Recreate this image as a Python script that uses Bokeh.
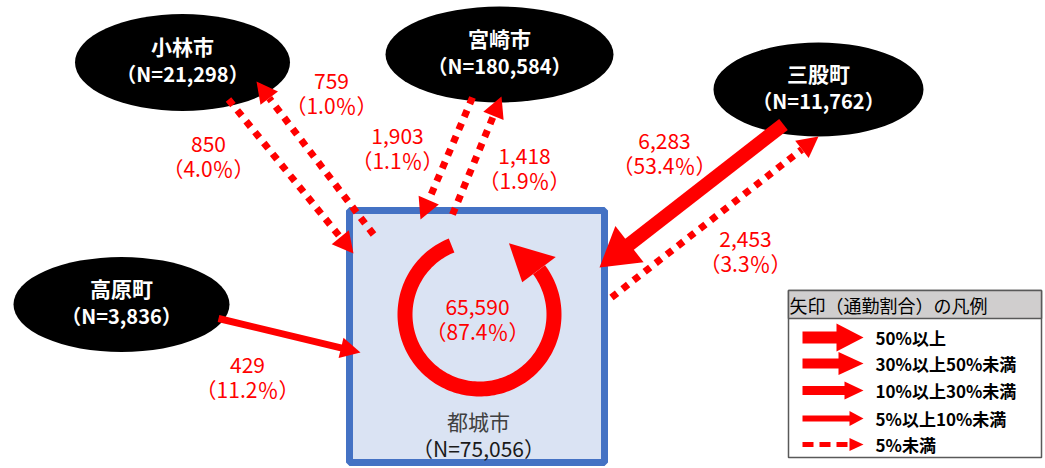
import numpy as np
from bokeh.plotting import figure
from bokeh.models import Range1d
from bokeh.core.properties import value
from bokeh.embed import file_html
from bokeh.resources import INLINE

# ---------------- data ----------------
center_name = "都城市"
center_n = 75056
internal_flow = 65590
internal_pct = 87.4

places = ["小林市", "宮崎市", "三股町", "高原町"]
place_n = [21298, 180584, 11762, 3836]
# commuters from each place to 都城市
to_center = [850, 1903, 6283, 429]
to_center_pct = [4.0, 1.1, 53.4, 11.2]
# commuters from 都城市 to each place
from_center = [759, 1418, 2453, None]
from_center_pct = [1.0, 1.9, 3.3, None]

legend_title = "矢印（通勤割合）の凡例"
legend_labels = ["50%以上", "30%以上50%未満", "10%以上30%未満", "5%以上10%未満", "5%未満"]
class_bounds = [50, 30, 10, 5, 0]

# ---------------- layout (screen pixels) ----------------
W, H = 1045, 468
ellipse_layout = {
    "小林市": (182, 62, 215, 97),
    "宮崎市": (499, 54, 228, 96),
    "三股町": (818, 89, 210, 94),
    "高原町": (121, 304, 216, 95),
}
to_geom = {
    "小林市": ((228, 99), (353, 253)),
    "宮崎市": ((472, 97), (420, 219)),
    "三股町": ((783, 124), (599, 267)),
    "高原町": ((218, 318), (360, 352)),
}
from_geom = {
    "小林市": ((373, 234), (256, 81)),
    "宮崎市": ((452, 214), (501, 96)),
    "三股町": ((611, 297), (818, 136)),
}
to_label_pos = {"小林市": (208, 143), "宮崎市": (397, 135), "三股町": (664, 140), "高原町": (247, 364)}
from_label_pos = {"小林市": (331, 80), "宮崎市": (524, 155), "三股町": (745, 238)}
LINE_GAP = 24

# arrow styles by class index: shaft width, head width, head length
main_style = [(14, 46, 38), (11, 34, 30), (7, 21, 20), (6, 18, 16), (7, 22, 21)]
legend_style = [(12, 28, 27), (10, 23, 25), (9, 18, 19), (6, 15, 14), (5, 13, 14)]

RED = "#FF0000"
FONT = value("'Noto Sans CJK JP'")


def arrow_class(pct):
    for i, b in enumerate(class_bounds):
        if pct >= b:
            return i
    return len(class_bounds) - 1


p = figure(width=W, height=H, x_range=Range1d(0, W), y_range=Range1d(H, 0),
           output_backend="svg", toolbar_location=None, min_border=0,
           x_axis_type=None, y_axis_type=None)
p.grid.visible = False
p.outline_line_color = None
p.background_fill_color = "white"
p.border_fill_color = "white"


def draw_arrow(start, tip, sw, hw, hl, dotted=False, dash="7 7"):
    x0, y0 = start
    x1, y1 = tip
    dx, dy = x1 - x0, y1 - y0
    L = np.hypot(dx, dy)
    ux, uy = dx / L, dy / L
    nx, ny = -uy, ux
    bx, by = x1 - ux * hl, y1 - uy * hl
    if dotted:
        p.line([x0, bx], [y0, by], line_color=RED, line_width=sw, line_dash=dash, line_cap="butt")
    else:
        ex, ey = bx + ux * 2, by + uy * 2
        p.patch([x0 + nx * sw / 2, ex + nx * sw / 2, ex - nx * sw / 2, x0 - nx * sw / 2],
                [y0 + ny * sw / 2, ey + ny * sw / 2, ey - ny * sw / 2, y0 - ny * sw / 2],
                fill_color=RED, line_color=None)
    p.patch([x1, bx + nx * hw / 2, bx - nx * hw / 2], [y1, by + ny * hw / 2, by - ny * hw / 2],
            fill_color=RED, line_color=None)


def txt(x, y, s, size, color, bold=False, align="center"):
    p.text(x=[x], y=[y], text=[s], text_font=FONT, text_font_size=f"{size}px",
           text_color=color, text_align=align, text_baseline="middle",
           text_font_style="bold" if bold else "normal")


def flow_label(pos, n, pct):
    x, y = pos
    txt(x, y, f"{n:,}", 21, RED)
    txt(x, y + LINE_GAP, f"（{pct:.1f}％）", 21, RED)


# 都城市 box
p.quad(left=[349], right=[604], top=[210], bottom=[462], fill_color="#DAE3F3",
       line_color="#4472C4", line_width=7)

# internal circular arrow
cx, cy, r_in, r_out = 479, 314, 67, 82
a0, a1 = np.deg2rad(-112), np.deg2rad(-397)
th = np.linspace(a0, a1, 160)
p.patch(np.concatenate([cx + r_out * np.cos(th), cx + r_in * np.cos(th[::-1])]),
        np.concatenate([cy + r_out * np.sin(th), cy + r_in * np.sin(th[::-1])]),
        fill_color=RED, line_color=None)
rm = (r_in + r_out) / 2
hw_c = 42
tip_a = np.deg2rad(-67.5)
p.patch([cx + (rm - hw_c / 2) * np.cos(a1), cx + (rm + hw_c / 2) * np.cos(a1), cx + 77 * np.cos(tip_a)],
        [cy + (rm - hw_c / 2) * np.sin(a1), cy + (rm + hw_c / 2) * np.sin(a1), cy + 77 * np.sin(tip_a)],
        fill_color=RED, line_color=None)
flow_label((477, 306), internal_flow, internal_pct)
txt(478, 420, center_name, 21, "#404040")
txt(478, 447, f"（N={center_n:,}）", 21, "#1a1a1a")

# nodes
for name, n in zip(places, place_n):
    x, y, w, h = ellipse_layout[name]
    p.ellipse(x=[x], y=[y], width=[w], height=[h], fill_color="black", line_color=None)
    txt(x, y - 17, name, 21, "white", bold=True)
    txt(x, y + 11, f"（N={n:,}）", 20, "white", bold=True)

# flows
for name, n, pct in zip(places, to_center, to_center_pct):
    c = arrow_class(pct)
    sw, hw, hl = main_style[c]
    draw_arrow(*to_geom[name], sw, hw, hl, dotted=(c == 4))
    flow_label(to_label_pos[name], n, pct)
for name, n, pct in zip(places, from_center, from_center_pct):
    if n is None:
        continue
    c = arrow_class(pct)
    sw, hw, hl = main_style[c]
    draw_arrow(*from_geom[name], sw, hw, hl, dotted=(c == 4))
    flow_label(from_label_pos[name], n, pct)

# legend
p.quad(left=[788], right=[1041], top=[290], bottom=[457], fill_color="white",
       line_color="#595959", line_width=1.5)
p.quad(left=[788], right=[1041], top=[290], bottom=[318], fill_color="#D0CECE",
       line_color="#595959", line_width=1.5)
txt(789, 304, legend_title, 18, "black", align="left")
row_y = [337, 363, 390, 418, 444]
for i, (lab, yy) in enumerate(zip(legend_labels, row_y)):
    sw, hw, hl = legend_style[i]
    draw_arrow((802, yy), (863, yy), sw, hw, hl, dotted=(i == 4), dash="11 6")
    txt(875, yy, lab, 17, "black", bold=True, align="left")

open("out.html", "w").write(file_html(p, INLINE))
